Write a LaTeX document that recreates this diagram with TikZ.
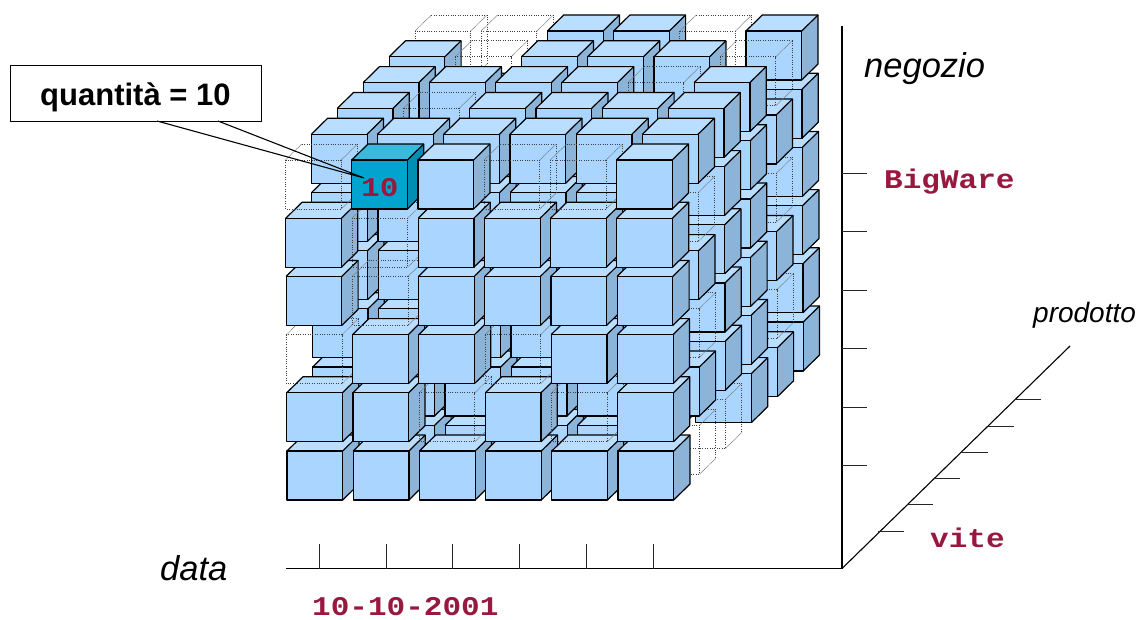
\documentclass[tikz,border=0pt]{standalone}
\usepackage{fontspec}
\setmainfont{Liberation Sans}
\newfontfamily\monob[FakeStretch=1.15]{Liberation Mono}
\definecolor{cfront}{HTML}{A9D5FF}
\definecolor{ctop}{HTML}{B9DEFF}
\definecolor{cright}{HTML}{8BB4D8}
\definecolor{hfront}{HTML}{00A4CF}
\definecolor{htop}{HTML}{38B9DD}
\definecolor{hright}{HTML}{008FB3}
\definecolor{labelred}{HTML}{98193F}
\tikzset{
  edge/.style={draw=black,line width=1.2pt,line join=round},
  dotedge/.style={draw=black!75,line width=1pt,dash pattern=on 1pt off 1.4pt},
  diagedge/.style={draw=black!50,line width=0.7pt,dash pattern=on 1pt off 0.6pt},
  axis/.style={draw=black,line width=1.1pt},
  tick/.style={draw=black!85,line width=1pt},
  redlabel/.style={anchor=base west,inner sep=0pt,text=labelred,font=\monob\bfseries\fontsize{27}{30}\selectfont},
  axislabel/.style={anchor=base west,inner sep=0pt,font=\itshape\fontsize{34.5}{40}\selectfont},
}
% mark[i-j-k] : i column, j depth (0 front), k row (0 bottom)
\newcommand\markempty[1]{\foreach \t in {#1}{\expandafter\gdef\csname D\t\endcsname{}}}
\markempty{
 0-0-5,3-0-5,4-0-5,1-0-4,1-0-3,0-0-2,3-0-2,2-0-1,4-0-1,
 5-1-4,5-1-2,5-1-0,
 1-2-5,5-2-0,
 4-3-5,
 1-4-5,5-4-5,5-4-3,5-4-1,
 0-5-5,1-5-5,4-5-5}
\newcommand\solidcube[5]{% x y front top right
  \fill[#4] (#1,#2) -- ++(16.3,-16) -- ++(55.7,0) -- ++(-16.3,16) -- cycle;
  \fill[#5] (#1+55.7,#2) -- ++(16.3,-16) -- ++(0,49) -- ++(-16.3,16) -- cycle;
  \fill[#3] (#1,#2) rectangle ++(55.7,49);
  \draw[edge] (#1,#2) rectangle ++(55.7,49);
  \draw[edge] (#1,#2) -- ++(16.3,-16) -- ++(55.7,0) -- ++(0,49) -- ++(-16.3,16);
  \draw[edge] (#1+55.7,#2) -- ++(16.3,-16);
}
\newcommand\emptycube[2]{%
  \draw[diagedge] (#1,#2) -- ++(16.3,-16);
  \draw[diagedge] (#1+55.7,#2) -- ++(16.3,-16);
  \draw[diagedge] (#1+55.7,#2+49) -- ++(16.3,-16);
  \draw[dotedge] (#1,#2) rectangle ++(55.7,49);
  \draw[dotedge] (#1+16.3,#2-16) -- ++(55.7,0) -- ++(0,49);
}
\begin{document}
\begin{tikzpicture}[x=1pt,y=-1pt]
\useasboundingbox (0,0) rectangle (1139,619);
\foreach \j in {5,4,3,2,1,0}{
  \foreach \k in {0,...,5}{
    \foreach \i in {0,...,5}{
      \pgfmathsetmacro\cx{287+66.2*\i+25.9*\j-0.3*\k}
      \pgfmathsetmacro\cy{451-58.2*\k-25.8*\j}
      \ifcsname D\i-\j-\k\endcsname
        \emptycube{\cx}{\cy}
      \else
        \ifnum\i\j\k=105
          \solidcube{\cx}{\cy}{hfront}{htop}{hright}
        \else
          \solidcube{\cx}{\cy}{cfront}{ctop}{cright}
        \fi
      \fi
    }
  }
}
% axes
\coordinate (origin) at (842,568.5);
\coordinate (vtop) at (842,26);
\coordinate (hleft) at (286,568.5);
\coordinate (dend) at (1070,346);
\draw[axis] (vtop) -- (origin) -- (hleft);
\draw[axis] (origin) -- (dend);
\foreach \y in {173,231.5,290,348,407,465}{
  \draw[tick] (842,\y) -- ++(25,0);
}
\foreach \x in {319,386,452,519,586,653}{
  \draw[tick] (\x,544) -- (\x,568.5);
}
\foreach \x/\y in {878/531,907/504.5,934/478,962/452,988/426,1015/399.5}{
  \draw[tick] (\x,\y) -- ++(25.5,0);
}
% callout
\node[draw=black,line width=1.1pt,fill=white,minimum width=251pt,minimum height=56.5pt,inner sep=0pt,anchor=north west] (box) at (10,64.5) {};
\node[anchor=base west,inner sep=0pt,font=\bfseries\fontsize{31}{36}\selectfont] (qty) at (40,105) {quantità = 10};
\coordinate (c1) at (157,121);
\coordinate (c2) at (218,121);
\coordinate (tip) at (364,178);
\draw[draw=black,line width=1.1pt] (c1) -- (tip) -- (c2);
% labels
\node[redlabel] (ten) at (361,196) {10};
\node[redlabel] (big) at (884,188) {BigWare};
\node[redlabel] (vite) at (930,547) {vite};
\node[redlabel] (date) at (312,615.5) {10-10-2001};
\node[axislabel] (neg) at (864,77) {negozio};
\node[axislabel] (dat) at (160,580) {data};
\node[axislabel,font=\itshape\fontsize{28}{32}\selectfont] (prod) at (1033,322) {prodotto};
\end{tikzpicture}
\end{document}
